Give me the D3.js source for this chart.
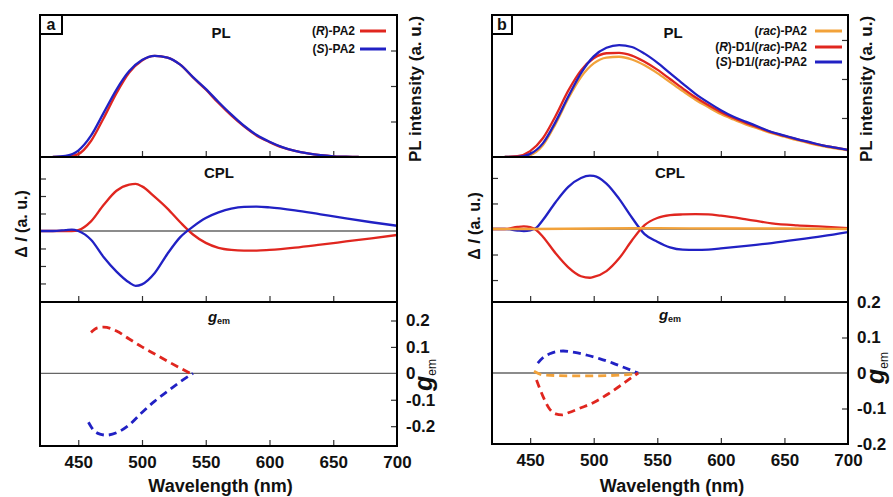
<!DOCTYPE html>
<html>
<head>
<meta charset="utf-8">
<script src="https://cdn.jsdelivr.net/npm/d3@7"></script>
<style>
  body { margin: 0; background: #fff; }
  text { font-family: "Liberation Sans", Arial, sans-serif; font-weight: bold; fill: #111; }
</style>
</head>
<body>
<svg id="chart"></svg>
<script>
// ---------- data ----------
var xTicks = [450, 500, 550, 600, 650];
var xLabels = [450, 500, 550, 600, 650, 700];

// panel a, PL
var plWlA = [430, 440, 450, 460, 470, 480, 490, 500, 510, 520, 530, 540, 550, 560, 570, 580, 590, 600, 610, 620, 630, 640, 650, 660, 670];
var plA_R = [0, 0, 0.08, 0.45, 1.1, 1.8, 2.38, 2.72, 2.85, 2.8, 2.6, 2.24, 1.9, 1.52, 1.17, 0.86, 0.6, 0.42, 0.27, 0.17, 0.1, 0.05, 0.02, 0.01, 0];
var plA_S = [0, 0.03, 0.18, 0.6, 1.25, 1.9, 2.42, 2.73, 2.85, 2.8, 2.6, 2.25, 1.92, 1.55, 1.2, 0.88, 0.62, 0.43, 0.28, 0.17, 0.1, 0.05, 0.02, 0.01, 0];

// panel a, CPL
var cplWlA = [420, 430, 440, 445, 450, 460, 470, 480, 490, 495, 500, 510, 520, 530, 540, 550, 560, 570, 580, 590, 600, 620, 640, 660, 680, 700];
var cplA_R = [0, 0, 0, 0, 0.05, 0.55, 1.5, 2.3, 2.65, 2.69, 2.55, 1.95, 1.28, 0.5, -0.2, -0.68, -0.96, -1.08, -1.12, -1.12, -1.08, -0.95, -0.78, -0.6, -0.42, -0.23];
var cplA_S = [0, 0, 0.05, 0.08, 0, -0.5, -1.5, -2.32, -2.95, -3.14, -3.05, -2.4, -1.3, -0.35, 0.25, 0.74, 1.06, 1.28, 1.38, 1.39, 1.35, 1.18, 0.95, 0.72, 0.5, 0.3];

// panel a, g_em
var gemWlA_R = [460, 465, 470, 480, 490, 500, 510, 520, 530, 538];
var gemA_R = [0.155, 0.172, 0.175, 0.16, 0.13, 0.1, 0.073, 0.046, 0.02, 0];
var gemWlA_S = [458, 462, 467, 472, 480, 490, 500, 510, 520, 530, 540];
var gemA_S = [-0.185, -0.215, -0.23, -0.234, -0.225, -0.195, -0.148, -0.105, -0.068, -0.032, 0];

// panel b, PL
var plWlB = [430, 440, 450, 460, 470, 480, 490, 500, 510, 520, 530, 540, 550, 560, 570, 580, 590, 600, 610, 620, 630, 640, 650, 660, 670, 680, 690, 700];
var plB_rac = [0, 0, 0.05, 0.3, 0.85, 1.5, 2.05, 2.4, 2.55, 2.57, 2.5, 2.35, 2.15, 1.92, 1.69, 1.47, 1.28, 1.1, 0.96, 0.83, 0.72, 0.61, 0.52, 0.43, 0.35, 0.28, 0.22, 0.17];
var plB_R = [0, 0.02, 0.15, 0.48, 1.05, 1.7, 2.22, 2.53, 2.66, 2.67, 2.6, 2.44, 2.24, 2.0, 1.76, 1.53, 1.33, 1.15, 1.0, 0.87, 0.75, 0.63, 0.54, 0.45, 0.37, 0.3, 0.24, 0.18];
var plB_S = [0, 0, 0.08, 0.35, 0.9, 1.55, 2.15, 2.58, 2.8, 2.87, 2.82, 2.65, 2.42, 2.15, 1.88, 1.62, 1.4, 1.2, 1.03, 0.9, 0.77, 0.64, 0.55, 0.46, 0.38, 0.3, 0.24, 0.18];

// panel b, CPL
var cplWlB = [420, 430, 440, 445, 450, 455, 460, 470, 480, 490, 497, 500, 510, 520, 530, 540, 550, 560, 570, 580, 590, 600, 620, 640, 660, 680, 700];
var cplB_R = [0, 0, 0.08, 0.1, 0.07, -0.05, -0.3, -0.95, -1.5, -1.85, -1.91, -1.88, -1.65, -1.15, -0.45, 0.15, 0.43, 0.54, 0.57, 0.58, 0.57, 0.52, 0.38, 0.22, 0.14, 0.09, 0.03];
var cplB_S = [0, 0, -0.06, -0.08, -0.05, 0.05, 0.35, 1.05, 1.65, 2.0, 2.09, 2.08, 1.78, 1.18, 0.45, -0.2, -0.5, -0.72, -0.81, -0.82, -0.81, -0.76, -0.66, -0.55, -0.42, -0.28, -0.12];
var cplWlB_rac = [420, 450, 500, 550, 600, 650, 700];
var cplB_rac = [0, 0, 0.02, 0.03, 0.02, 0.02, 0];

// panel b, g_em
var gemWlB_S = [456, 460, 466, 472, 476, 485, 495, 505, 515, 525, 535];
var gemB_S = [0.028, 0.043, 0.055, 0.061, 0.062, 0.058, 0.05, 0.04, 0.028, 0.014, 0];
var gemWlB_R = [455, 460, 465, 470, 475, 480, 490, 500, 510, 520, 530, 535];
var gemB_R = [-0.02, -0.065, -0.1, -0.115, -0.118, -0.112, -0.098, -0.083, -0.062, -0.038, -0.012, 0];
var gemWlB_rac = [453, 460, 480, 500, 520, 533];
var gemB_rac = [0.005, -0.005, -0.008, -0.008, -0.006, -0.002];

var gemTicks = [-0.2, -0.1, 0, 0.1, 0.2];

var RED = "#e0261f", BLUE = "#2121c4", ORANGE = "#f2a23a";

// ---------- drawing ----------
var svg = d3.select("#chart").attr("width", 893).attr("height", 497);
var clipId = 0;

function drawLine(g, x, y, wl, vals, color, dashed) {
    var line = d3.line()
        .x(function(d, i) { return x(wl[i]); })
        .y(function(d) { return y(d); })
        .curve(d3.curveMonotoneX);
    g.append("path")
        .datum(vals)
        .attr("d", line)
        .attr("fill", "none")
        .attr("stroke", color)
        .attr("stroke-width", dashed ? 2.8 : 2.3)
        .attr("stroke-dasharray", dashed ? "8,5" : null);
}

function innerAxis(g, axis, tx, ty) {
    g.append("g")
        .attr("transform", "translate(" + tx + "," + ty + ")")
        .call(axis)
        .call(function(a) { a.select(".domain").remove(); })
        .call(function(a) { a.selectAll("line").attr("stroke", "#333").attr("stroke-width", 1.2); });
}

// one sub plot: frame, ticks, zero line, curves
function drawSub(x, y, top, bottom, opt) {
    var x0 = x.range()[0], x1 = x.range()[1];
    var g = svg.append("g");
    var id = "clip" + (clipId++);
    g.append("clipPath").attr("id", id).append("rect")
        .attr("x", x0).attr("y", top).attr("width", x1 - x0).attr("height", bottom - top);

    innerAxis(g, d3.axisBottom(x).tickValues(xTicks).tickSize(-6).tickFormat(""), 0, bottom);
    if (opt.leftTicks) innerAxis(g, d3.axisLeft(y).tickValues(opt.leftTicks).tickSize(-6).tickFormat(""), x0, 0);
    if (opt.rightTicks) innerAxis(g, d3.axisRight(y).tickValues(opt.rightTicks).tickSize(-6).tickFormat(""), x1, 0);

    var plot = g.append("g").attr("clip-path", "url(#" + id + ")");
    if (opt.zero) {
        plot.append("line")
            .attr("x1", x0).attr("x2", x1)
            .attr("y1", y(0)).attr("y2", y(0))
            .attr("stroke", "#666").attr("stroke-width", 1.3);
    }
    opt.series.forEach(function(s) {
        drawLine(plot, x, y, s.wl, s.vals, s.color, opt.dashed);
    });

    g.append("rect")
        .attr("x", x0).attr("y", top).attr("width", x1 - x0).attr("height", bottom - top)
        .attr("fill", "none").attr("stroke", "#000").attr("stroke-width", 2);
}

function gemLabel(cx, cy) {
    var t = svg.append("text")
        .attr("transform", "translate(" + cx + "," + cy + ") rotate(-90)")
        .attr("text-anchor", "middle");
    t.append("tspan").attr("font-size", 25).attr("font-style", "italic").text("g");
    t.append("tspan").attr("font-size", 12).attr("font-weight", "normal").attr("dy", "0.3em").text("em");
}

function gemTitle(cx, cy) {
    var t = svg.append("text").attr("x", cx).attr("y", cy).attr("text-anchor", "middle");
    t.append("tspan").attr("font-size", 15).attr("font-style", "italic").text("g");
    t.append("tspan").attr("font-size", 9).attr("dy", "0.2em").text("em");
}

function sideLabel(cx, cy, parts, size) {
    var t = svg.append("text")
        .attr("transform", "translate(" + cx + "," + cy + ") rotate(-90)")
        .attr("text-anchor", "middle")
        .attr("dy", "0.35em")
        .attr("font-size", size);
    parts.forEach(function(p) {
        t.append("tspan").attr("font-style", p[1] ? "italic" : null).text(p[0]);
    });
}

function legend(xText, xl0, xl1, ys, items) {
    items.forEach(function(it, i) {
        var t = svg.append("text").attr("x", xText).attr("y", ys[i] + 4)
            .attr("text-anchor", "end").attr("font-size", 12);
        it.parts.forEach(function(p) {
            t.append("tspan").attr("font-style", p[1] ? "italic" : null).text(p[0]);
        });
        svg.append("line").attr("x1", xl0).attr("x2", xl1).attr("y1", ys[i]).attr("y2", ys[i])
            .attr("stroke", it.color).attr("stroke-width", 3);
    });
}

function letterBox(x0, x1, top, bottom, letter) {
    svg.append("rect").attr("x", x0).attr("y", top).attr("width", x1 - x0).attr("height", bottom - top)
        .attr("fill", "#fff").attr("stroke", "#000").attr("stroke-width", 2);
    svg.append("text").attr("x", (x0 + x1) / 2).attr("y", bottom - 4)
        .attr("text-anchor", "middle").attr("font-size", 16).text(letter);
}

function bottomLabels(x, bottom) {
    svg.append("g")
        .attr("transform", "translate(0," + bottom + ")")
        .call(d3.axisBottom(x).tickValues(xLabels).tickSize(0).tickPadding(10).tickFormat(d3.format("d")))
        .call(function(a) { a.select(".domain").remove(); })
        .call(function(a) {
            a.selectAll("text").attr("font-size", 17).attr("font-family", "Liberation Sans, Arial, sans-serif")
                .attr("font-weight", "bold").attr("fill", "#111");
        });
    var r = x.range();
    svg.append("text").attr("x", (r[0] + r[1]) / 2 + 2).attr("y", 492)
        .attr("text-anchor", "middle").attr("font-size", 18).text("Wavelength (nm)");
}

function gemAxis(yG, x1) {
    svg.append("g")
        .attr("transform", "translate(" + x1 + ",0)")
        .call(d3.axisRight(yG).tickValues(gemTicks).tickSize(0).tickPadding(9).tickFormat(function(d) { return String(d); }))
        .call(function(a) { a.select(".domain").remove(); })
        .call(function(a) {
            a.selectAll("text").attr("font-size", 17).attr("font-family", "Liberation Sans, Arial, sans-serif")
                .attr("font-weight", "bold").attr("fill", "#111");
        });
}

// ----- panel a -----
var xA = d3.scaleLinear().domain([420, 700]).range([40, 397]);
var yPlA = d3.scaleLinear().domain([0, 4]).range([157, 15]);
var yCplA = d3.scaleLinear().domain([-4.06, 4.23]).range([302, 157]);
var yGemA = d3.scaleLinear().domain([-0.275, 0.27]).range([446, 302]);

drawSub(xA, yPlA, 15, 157, {
    rightTicks: [1, 2, 3],
    series: [{ wl: plWlA, vals: plA_R, color: RED }, { wl: plWlA, vals: plA_S, color: BLUE }]
});
drawSub(xA, yCplA, 157, 302, {
    leftTicks: [-3, -2, -1, 1, 2, 3], zero: true,
    series: [{ wl: cplWlA, vals: cplA_R, color: RED }, { wl: cplWlA, vals: cplA_S, color: BLUE }]
});
drawSub(xA, yGemA, 302, 446, {
    rightTicks: [-0.2, -0.1, 0.1, 0.2], zero: true, dashed: true,
    series: [{ wl: gemWlA_R, vals: gemA_R, color: RED }, { wl: gemWlA_S, vals: gemA_S, color: BLUE }]
});

// ----- panel b -----
var xB = d3.scaleLinear().domain([420, 700]).range([492, 848]);
var yPlB = d3.scaleLinear().domain([0, 3.64]).range([157, 15]);
var yCplB = d3.scaleLinear().domain([-2.86, 2.82]).range([302, 157]);
var yGemB = d3.scaleLinear().domain([-0.2, 0.2]).range([444, 302]);

drawSub(xB, yPlB, 15, 157, {
    rightTicks: [1, 2, 3],
    series: [{ wl: plWlB, vals: plB_rac, color: ORANGE }, { wl: plWlB, vals: plB_R, color: RED }, { wl: plWlB, vals: plB_S, color: BLUE }]
});
drawSub(xB, yCplB, 157, 302, {
    leftTicks: [-2, -1, 1, 2], zero: true,
    series: [{ wl: cplWlB, vals: cplB_S, color: BLUE }, { wl: cplWlB, vals: cplB_R, color: RED }, { wl: cplWlB_rac, vals: cplB_rac, color: ORANGE }]
});
drawSub(xB, yGemB, 302, 444, {
    rightTicks: [-0.1, 0.1], zero: true, dashed: true,
    series: [{ wl: gemWlB_S, vals: gemB_S, color: BLUE }, { wl: gemWlB_R, vals: gemB_R, color: RED }, { wl: gemWlB_rac, vals: gemB_rac, color: ORANGE }]
});

// ----- texts -----
letterBox(40, 62, 15, 34, "a");
letterBox(492, 512, 15, 34, "b");

svg.append("text").attr("x", 221).attr("y", 38).attr("text-anchor", "middle").attr("font-size", 15).text("PL");
svg.append("text").attr("x", 673).attr("y", 38).attr("text-anchor", "middle").attr("font-size", 15).text("PL");
svg.append("text").attr("x", 219).attr("y", 178).attr("text-anchor", "middle").attr("font-size", 15).text("CPL");
svg.append("text").attr("x", 670).attr("y", 178).attr("text-anchor", "middle").attr("font-size", 15).text("CPL");
gemTitle(219, 322);
gemTitle(670, 320);

legend(355, 360, 386, [31, 49], [
    { parts: [["("], ["R", true], [")-PA2"]], color: RED },
    { parts: [["("], ["S", true], [")-PA2"]], color: BLUE }
]);
legend(807, 815, 842, [31, 47, 62], [
    { parts: [["("], ["rac", true], [")-PA2"]], color: ORANGE },
    { parts: [["("], ["R", true], [")-D1/("], ["rac", true], [")-PA2"]], color: RED },
    { parts: [["("], ["S", true], [")-D1/("], ["rac", true], [")-PA2"]], color: BLUE }
]);

sideLabel(415, 89, [["PL intensity (a. u.)"]], 17);
sideLabel(866, 89, [["PL intensity (a. u.)"]], 17);
sideLabel(21, 224, [["\u0394 "], ["I", true], [" (a. u.)"]], 16);
sideLabel(474, 226, [["\u0394 "], ["I", true], [" (a. u.)"]], 16);

gemAxis(yGemA, 397);
gemAxis(yGemB, 848);
gemLabel(432, 375);
gemLabel(884, 368);

bottomLabels(xA, 446);
bottomLabels(xB, 444);
</script>
</body>
</html>
